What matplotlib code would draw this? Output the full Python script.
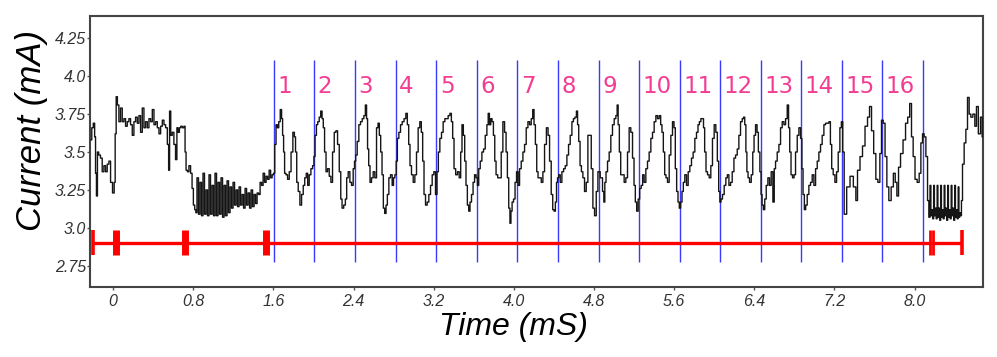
# plot.py
# Current trace with numbered cycle markers

import numpy as np
import matplotlib
matplotlib.use("Agg")
import matplotlib.pyplot as plt

# black current trace (time in mS, current in mA)
time_ms = [
    -0.22, -0.205, -0.19, -0.178, -0.172, -0.16, -0.152, -0.135, -0.117, -0.10,
    -0.083, -0.067, -0.05, -0.033, -0.017, 0.006, 0.016, 0.026, 0.036, 0.05,
    0.066, 0.083, 0.10, 0.116, 0.133, 0.15, 0.166, 0.183, 0.20, 0.216,
    0.233, 0.25, 0.266, 0.283, 0.30, 0.316, 0.333, 0.35, 0.366, 0.383,
    0.40, 0.416, 0.433, 0.45, 0.466, 0.483, 0.50, 0.516, 0.533, 0.55,
    0.559, 0.569, 0.582, 0.599, 0.615, 0.632, 0.642, 0.655, 0.669, 0.682,
    0.699, 0.715, 0.722, 0.735, 0.749, 0.765, 0.782, 0.795, 0.808, 0.822,
    # low ripple section
    0.83, 0.845, 0.86, 0.875, 0.89, 0.905, 0.92, 0.935, 0.95, 0.965,
    0.98, 0.995, 1.01, 1.025, 1.04, 1.055, 1.07, 1.085, 1.10, 1.115,
    1.13, 1.145, 1.16, 1.175, 1.19, 1.205, 1.22, 1.235, 1.25, 1.265,
    1.28, 1.295, 1.31, 1.325, 1.34, 1.355, 1.37, 1.385, 1.40, 1.415,
    1.43, 1.445, 1.46, 1.475, 1.49, 1.505, 1.52, 1.535, 1.55, 1.565,
    1.58, 1.595,
    # cycle 1
    1.607, 1.620, 1.633, 1.647, 1.660, 1.677, 1.687, 1.697, 1.707, 1.717,
    1.733, 1.750, 1.767, 1.786, 1.803, 1.816, 1.826, 1.840, 1.856, 1.873,
    1.890, 1.906, 1.920, 1.936, 1.949, 1.966, 1.983, 2.000, 2.009,
    # cycle 2
    2.023, 2.036, 2.049, 2.066, 2.079, 2.093, 2.103, 2.119, 2.132, 2.149,
    2.166, 2.182, 2.199, 2.216, 2.232, 2.249, 2.266, 2.279, 2.292, 2.312,
    2.325, 2.338, 2.355, 2.372, 2.388, 2.405, 2.415,
    # cycle 3
    2.428, 2.445, 2.461, 2.478, 2.495, 2.511, 2.525, 2.535, 2.545, 2.558,
    2.571, 2.588, 2.604, 2.621, 2.638, 2.651, 2.664, 2.678, 2.691, 2.704,
    2.718, 2.731, 2.744, 2.761, 2.777, 2.794, 2.804, 2.821,
    # cycle 4
    2.831, 2.844, 2.861, 2.877, 2.894, 2.914, 2.930, 2.944, 2.957, 2.970,
    2.987, 3.004, 3.020, 3.037, 3.053, 3.070, 3.083, 3.097, 3.110, 3.127,
    3.143, 3.160, 3.177, 3.193, 3.210, 3.226,
    # cycle 5
    3.240, 3.253, 3.270, 3.286, 3.303, 3.320, 3.336, 3.353, 3.370, 3.383,
    3.396, 3.410, 3.429, 3.446, 3.463, 3.476, 3.489, 3.503, 3.516, 3.529,
    3.543, 3.556, 3.569, 3.586, 3.600, 3.616, 3.630,
    # cycle 6
    3.643, 3.656, 3.673, 3.689, 3.706, 3.723, 3.739, 3.749, 3.763, 3.776,
    3.789, 3.803, 3.816, 3.829, 3.849, 3.866, 3.882, 3.899, 3.916, 3.929,
    3.942, 3.956, 3.966, 3.976, 3.989, 4.005, 4.019, 4.035,
    # cycle 7
    4.049, 4.065, 4.082, 4.099, 4.115, 4.132, 4.149, 4.165, 4.182, 4.195,
    4.208, 4.222, 4.235, 4.248, 4.265, 4.282, 4.298, 4.315, 4.335, 4.348,
    4.365, 4.381, 4.395, 4.408, 4.421, 4.431, 4.441,
    # cycle 8
    4.455, 4.471, 4.488, 4.505, 4.521, 4.538, 4.554, 4.571, 4.588, 4.601,
    4.618, 4.631, 4.641, 4.654, 4.668, 4.681, 4.697, 4.714, 4.731, 4.747,
    4.764, 4.781, 4.797, 4.814, 4.831, 4.847,
    # cycle 9
    4.877, 4.893, 4.903, 4.913, 4.927, 4.943, 4.960, 4.976, 4.993, 5.010,
    5.026, 5.036, 5.046, 5.060, 5.073, 5.093, 5.109, 5.126, 5.143, 5.159,
    5.176, 5.193, 5.206, 5.219, 5.233, 5.249,
    # cycle 10
    5.263, 5.279, 5.292, 5.309, 5.326, 5.342, 5.359, 5.376, 5.392, 5.409,
    5.426, 5.442, 5.459, 5.472, 5.485, 5.499, 5.512, 5.525, 5.542, 5.559,
    5.575, 5.592, 5.605, 5.618, 5.632, 5.645, 5.658,
    # cycle 11
    5.672, 5.685, 5.698, 5.715, 5.732, 5.748, 5.765, 5.781, 5.798, 5.815,
    5.831, 5.845, 5.858, 5.875, 5.888, 5.898, 5.911, 5.925, 5.941, 5.958,
    5.974, 5.991, 6.008, 6.024, 6.038, 6.051, 6.061,
    # cycle 12
    6.074, 6.091, 6.108, 6.124, 6.138, 6.155, 6.171, 6.188, 6.205, 6.221,
    6.238, 6.254, 6.271, 6.288, 6.298, 6.311, 6.321, 6.331, 6.344, 6.361,
    6.378, 6.391, 6.404, 6.421, 6.434, 6.447, 6.464,
    # cycle 13
    6.471, 6.484, 6.497, 6.511, 6.527, 6.544, 6.560, 6.577, 6.594, 6.604,
    6.620, 6.637, 6.654, 6.670, 6.687, 6.704, 6.720, 6.737, 6.747, 6.760,
    6.773, 6.790, 6.803, 6.820, 6.837, 6.853, 6.870,
    # cycle 14
    6.880, 6.893, 6.906, 6.920, 6.936, 6.953, 6.970, 6.986, 7.003, 7.020,
    7.036, 7.053, 7.069, 7.086, 7.103, 7.119, 7.136, 7.153, 7.166, 7.179,
    7.196, 7.213, 7.229, 7.246, 7.262, 7.276,
    # cycle 15
    7.289, 7.305, 7.339, 7.372, 7.405, 7.422, 7.438, 7.472, 7.488, 7.522,
    7.538, 7.562, 7.578, 7.605, 7.621, 7.645, 7.661, 7.678,
    # cycle 16
    7.695, 7.715, 7.731, 7.754, 7.778, 7.798, 7.815, 7.831, 7.848, 7.871,
    7.898, 7.921, 7.941, 7.961, 7.977, 7.994, 8.014, 8.037, 8.054, 8.071,
    8.087, 8.104, 8.121, 8.137, 8.147,
    # low ripple section at the end
    8.16, 8.165, 8.175, 8.185, 8.195, 8.20, 8.21, 8.22, 8.23, 8.235,
    8.245, 8.255, 8.265, 8.27, 8.28, 8.29, 8.30, 8.305, 8.315, 8.325,
    8.335, 8.34, 8.35, 8.36, 8.37, 8.375, 8.385, 8.395, 8.405, 8.41,
    8.42, 8.43, 8.44, 8.445, 8.455, 8.465, 8.47,
    # recovery
    8.486, 8.503, 8.52, 8.536, 8.553, 8.569, 8.593, 8.609, 8.626, 8.646,
    8.669, 8.679,
]

current_ma = [
    3.58, 3.66, 3.69, 3.60, 3.36, 3.21, 3.50, 3.48, 3.46, 3.37,
    3.41, 3.37, 3.42, 3.44, 3.30, 3.23, 3.30, 3.62, 3.865, 3.81,
    3.70, 3.79, 3.70, 3.72, 3.67, 3.70, 3.72, 3.68, 3.61, 3.70,
    3.73, 3.69, 3.74, 3.63, 3.79, 3.66, 3.70, 3.66, 3.72, 3.70,
    3.78, 3.68, 3.70, 3.66, 3.62, 3.67, 3.71, 3.68, 3.66, 3.55,
    3.38, 3.77, 3.61, 3.63, 3.55, 3.45, 3.66, 3.63, 3.66, 3.67,
    3.66, 3.67, 3.50, 3.38, 3.37, 3.41, 3.36, 3.26, 3.15, 3.12,
    # low ripple section
    3.10, 3.33, 3.09, 3.30, 3.08, 3.36, 3.09, 3.25, 3.08, 3.35,
    3.09, 3.28, 3.08, 3.36, 3.08, 3.30, 3.09, 3.33, 3.07, 3.28,
    3.08, 3.31, 3.10, 3.27, 3.13, 3.30, 3.15, 3.25, 3.14, 3.27,
    3.15, 3.22, 3.13, 3.26, 3.15, 3.23, 3.13, 3.25, 3.14, 3.22,
    3.16, 3.23, 3.22, 3.30, 3.28, 3.36, 3.30, 3.34, 3.32, 3.38,
    3.33, 3.35,
    # cycle 1
    3.36, 3.55, 3.68, 3.66, 3.70, 3.78, 3.72, 3.61, 3.50, 3.36,
    3.35, 3.32, 3.37, 3.50, 3.63, 3.60, 3.50, 3.30, 3.24, 3.15,
    3.22, 3.28, 3.33, 3.36, 3.28, 3.35, 3.39, 3.41, 3.47,
    # cycle 2
    3.61, 3.68, 3.70, 3.73, 3.77, 3.72, 3.66, 3.50, 3.37, 3.39,
    3.34, 3.30, 3.50, 3.63, 3.64, 3.55, 3.37, 3.19, 3.13, 3.15,
    3.19, 3.33, 3.37, 3.30, 3.28, 3.39, 3.44,
    # cycle 3
    3.48, 3.57, 3.68, 3.70, 3.72, 3.74, 3.81, 3.72, 3.52, 3.41,
    3.30, 3.33, 3.37, 3.33, 3.66, 3.69, 3.61, 3.50, 3.35, 3.13,
    3.095, 3.15, 3.22, 3.33, 3.35, 3.28, 3.33, 3.35,
    # cycle 4
    3.44, 3.59, 3.63, 3.68, 3.70, 3.72, 3.755, 3.68, 3.55, 3.41,
    3.35, 3.30, 3.35, 3.50, 3.66, 3.70, 3.63, 3.44, 3.22, 3.15,
    3.17, 3.22, 3.28, 3.35, 3.37, 3.22,
    # cycle 5
    3.37, 3.50, 3.59, 3.63, 3.70, 3.72, 3.72, 3.74, 3.755, 3.70,
    3.59, 3.39, 3.35, 3.37, 3.33, 3.50, 3.68, 3.61, 3.44, 3.28,
    3.15, 3.11, 3.17, 3.22, 3.30, 3.35, 3.33,
    # cycle 6
    3.28, 3.39, 3.44, 3.50, 3.52, 3.61, 3.68, 3.755, 3.68, 3.72,
    3.70, 3.61, 3.44, 3.35, 3.33, 3.33, 3.50, 3.70, 3.63, 3.50,
    3.33, 3.13, 3.03, 3.11, 3.17, 3.19, 3.30, 3.37,
    # cycle 7
    3.28, 3.39, 3.44, 3.50, 3.55, 3.66, 3.70, 3.68, 3.72, 3.78,
    3.68, 3.55, 3.37, 3.33, 3.33, 3.30, 3.37, 3.55, 3.66, 3.61,
    3.44, 3.22, 3.12, 3.11, 3.17, 3.30, 3.33,
    # cycle 8
    3.35, 3.30, 3.37, 3.39, 3.41, 3.48, 3.55, 3.61, 3.70, 3.72,
    3.73, 3.77, 3.68, 3.57, 3.41, 3.37, 3.33, 3.24, 3.30, 3.61,
    3.61, 3.39, 3.13, 3.08, 3.24, 3.37,
    # cycle 9
    3.33, 3.24, 3.17, 3.30, 3.37, 3.44, 3.50, 3.61, 3.68, 3.72,
    3.74, 3.81, 3.68, 3.50, 3.35, 3.35, 3.30, 3.33, 3.50, 3.66,
    3.63, 3.46, 3.28, 3.17, 3.11, 3.19,
    # cycle 10
    3.26, 3.28, 3.35, 3.30, 3.39, 3.44, 3.50, 3.59, 3.63, 3.70,
    3.74, 3.72, 3.74, 3.68, 3.63, 3.50, 3.35, 3.33, 3.30, 3.48,
    3.61, 3.70, 3.66, 3.39, 3.24, 3.17, 3.13,
    # cycle 11
    3.17, 3.24, 3.30, 3.35, 3.28, 3.37, 3.41, 3.46, 3.50, 3.59,
    3.63, 3.68, 3.70, 3.72, 3.72, 3.66, 3.50, 3.37, 3.35, 3.33,
    3.41, 3.59, 3.68, 3.63, 3.44, 3.24, 3.17,
    # cycle 12
    3.19, 3.22, 3.28, 3.33, 3.35, 3.28, 3.30, 3.37, 3.46, 3.48,
    3.52, 3.61, 3.70, 3.72, 3.73, 3.68, 3.50, 3.37, 3.33, 3.30,
    3.35, 3.50, 3.61, 3.68, 3.63, 3.50, 3.37,
    # cycle 13
    3.22, 3.15, 3.12, 3.19, 3.28, 3.33, 3.28, 3.37, 3.17, 3.39,
    3.44, 3.50, 3.55, 3.66, 3.70, 3.68, 3.72, 3.81, 3.66, 3.50,
    3.35, 3.33, 3.35, 3.50, 3.61, 3.66, 3.59,
    # cycle 14
    3.39, 3.22, 3.12, 3.15, 3.22, 3.28, 3.30, 3.35, 3.28, 3.39,
    3.44, 3.50, 3.55, 3.61, 3.68, 3.69, 3.69, 3.70, 3.55, 3.39,
    3.35, 3.30, 3.37, 3.50, 3.66, 3.70,
    # cycle 15
    3.50, 3.09, 3.27, 3.34, 3.27, 3.18, 3.38, 3.47, 3.54, 3.67,
    3.73, 3.80, 3.64, 3.49, 3.32, 3.30, 3.49, 3.71,
    # cycle 16
    3.69, 3.47, 3.27, 3.18, 3.27, 3.36, 3.30, 3.21, 3.40, 3.49,
    3.58, 3.69, 3.73, 3.82, 3.60, 3.47, 3.32, 3.30, 3.36, 3.56,
    3.62, 3.60, 3.47, 3.18, 3.07,
    # low ripple section at the end
    3.28, 3.08, 3.12, 3.06, 3.28, 3.08, 3.13, 3.06, 3.28, 3.07,
    3.13, 3.05, 3.28, 3.07, 3.12, 3.06, 3.28, 3.08, 3.13, 3.05,
    3.28, 3.07, 3.12, 3.06, 3.28, 3.08, 3.13, 3.05, 3.28, 3.07,
    3.12, 3.06, 3.27, 3.07, 3.10, 3.08, 3.18,
    # recovery
    3.42, 3.56, 3.65, 3.86, 3.75, 3.73, 3.75, 3.67, 3.80, 3.62,
    3.73, 3.60,
]

# blue cycle boundaries and their numbers
cycle_lines = [1.607, 2.009, 2.415, 2.821, 3.226, 3.630, 4.035, 4.441, 4.847,
               5.251, 5.658, 6.061, 6.464, 6.870, 7.276, 7.678, 8.084]
cycle_labels = [str(i) for i in range(1, 17)]

# red segment bar and its end marks
red_y = 2.9
red_start, red_end = -0.203, 8.47
red_marks_thin = [-0.203, 8.47]
red_marks_thick = [0.027, 0.715, 1.525]
red_marks_double = [8.158, 8.182]

x_ticks = [0, 0.8, 1.6, 2.4, 3.2, 4.0, 4.8, 5.6, 6.4, 7.2, 8.0]
x_tick_labels = ["0", "0.8", "1.6", "2.4", "3.2", "4.0", "4.8", "5.6", "6.4", "7.2", "8.0"]
y_ticks = [2.75, 3.0, 3.25, 3.5, 3.75, 4.0, 4.25]
y_tick_labels = ["2.75", "3.0", "3.25", "3.5", "3.75", "4.0", "4.25"]

fig = plt.figure(figsize=(9.97, 3.57), dpi=100)
ax = fig.add_axes([0.0903, 0.1961, 0.8954, 0.7591])

# trace, drawn as a staircase like the sampled signal
ax.plot(time_ms, current_ma, color="#151515", linewidth=1.0,
        drawstyle="steps-mid", zorder=3)

# cycle lines and numbers
ax.vlines(cycle_lines, 2.772, 4.107, color="#3a3aff", linewidth=1.0, zorder=2)
for x, lab in zip(cycle_lines[:-1], cycle_labels):
    ax.text(x + 0.035, 3.935, lab, color="#f23d92", fontsize=16.5,
            family="DejaVu Sans", ha="left", va="center")

# red bar
ax.hlines(red_y, red_start, red_end, color="#ff0000", linewidth=2.4, zorder=4)
ax.vlines(red_marks_thin, 2.82, 2.984, color="#ff0000", linewidth=2.6, zorder=4)
ax.vlines(red_marks_thick, 2.82, 2.984, color="#ff0000", linewidth=5.0, zorder=4)
ax.vlines(red_marks_double, 2.82, 2.984, color="#ff0000", linewidth=2.0, zorder=4)

ax.set_xlim(-0.23, 8.68)
ax.set_ylim(2.61, 4.397)

ax.set_xticks(x_ticks)
ax.set_xticklabels(x_tick_labels)
ax.set_yticks(y_ticks)
ax.set_yticklabels(y_tick_labels)
for lab in ax.get_xticklabels() + ax.get_yticklabels():
    lab.set_family("Liberation Sans")
    lab.set_style("italic")
    lab.set_fontsize(11.5)
    lab.set_color("#333333")
ax.tick_params(axis="both", direction="out", length=2, width=1, color="#555555")
ax.tick_params(axis="x", pad=3)
ax.tick_params(axis="y", pad=1)

for side in ax.spines.values():
    side.set_color("#444444")
    side.set_linewidth(1.5)

# axis titles
fig.text(513 / 997, 1 - 327 / 357, "Time (mS)", family="Liberation Sans",
         style="italic", fontsize=23, ha="center", va="center")
fig.text(31 / 997, 1 - 130 / 357, "Current (mA)", family="Liberation Sans",
         style="italic", fontsize=25, ha="center", va="center", rotation=90)

fig.savefig("out.png", dpi=100)
plt.close(fig)
